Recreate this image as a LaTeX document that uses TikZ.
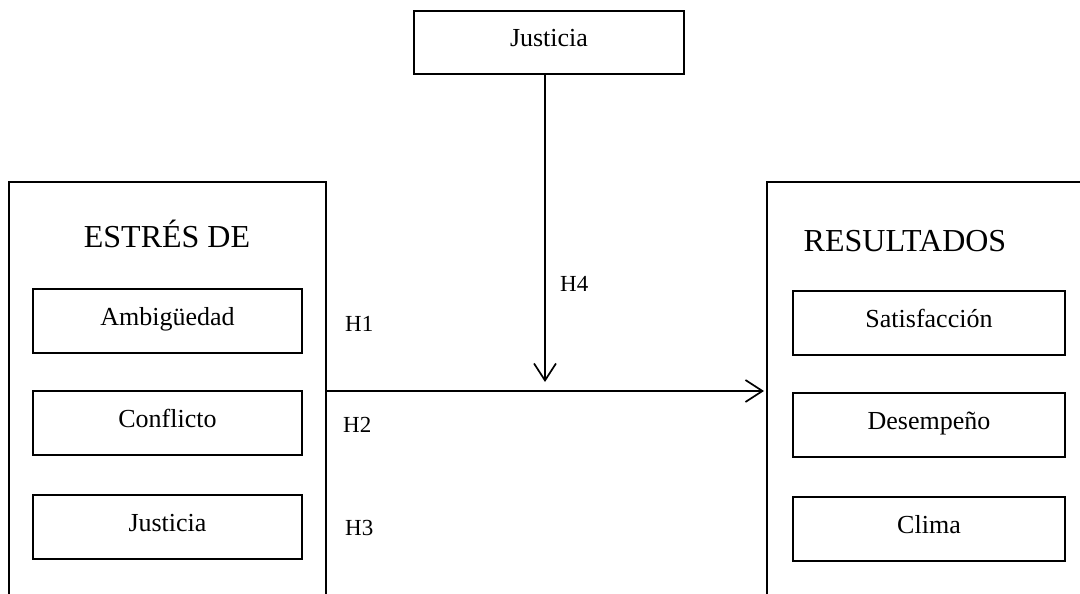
\documentclass[tikz,border=0pt]{standalone}
\usepackage{fontspec}
\setmainfont{Liberation Serif}
\usetikzlibrary{arrows.meta}
\begin{document}
\begin{tikzpicture}[x=1pt,y=-1pt,
  line width=1.7pt,
  frame/.style={draw=none,minimum width=317pt,minimum height=420pt,inner sep=0pt,outer sep=0pt},
  itembox/.style={draw,minimum width=269pt,minimum height=64pt,inner sep=0pt,
    text height=17pt,text depth=9pt,font=\fontsize{26}{30}\selectfont},
  head/.style={anchor=base,font=\fontsize{32}{36}\selectfont},
  hyp/.style={anchor=base west,font=\fontsize{23}{26}\selectfont},
  arr/.style={-{Straight Barb[length=17pt,width=22pt,line width=1.7pt]}}]
\useasboundingbox (0,0) rectangle (1080,594);

% outer groups (open at the bottom edge)
\node[frame,anchor=north west] (est) at (9,182) {};
\node[frame,anchor=north west,minimum width=330pt] (res) at (767,182) {};
\draw (est.south west) -- (est.north west) -- (est.north east) -- (est.south east);
\draw (res.south west) -- (res.north west) -- (res.north east);

\node[head] (esth) at (167,247) {ESTRÉS DE};
\node[head] (resh) at (905,251) {RESULTADOS};

% stressors
\node[itembox] (amb) at (167.5,321) {Ambigüedad};
\node[itembox] (con) at (167.5,423) {Conflicto};
\node[itembox] (jus) at (167.5,527) {Justicia};

% outcomes
\node[itembox,minimum width=272pt] (sat) at (929,323) {Satisfacción};
\node[itembox,minimum width=272pt] (des) at (929,425) {Desempeño};
\node[itembox,minimum width=272pt] (cli) at (929,529) {Clima};

% moderator
\node[itembox,minimum width=270pt,minimum height=63pt] (mod) at (549,42.5) {Justicia};

% hypotheses
\node[hyp] (h1) at (341,331) {H1};
\node[hyp] (h2) at (339,432) {H2};
\node[hyp] (h3) at (341,535) {H3};
\node[hyp] (h4) at (556,291) {H4};

% main path and moderating path
\coordinate (lvl) at (0,391);
\draw[arr,shorten >=3pt] (est.east |- lvl) -- (res.west |- lvl);
\draw[arr] (mod.south -| 545,0) -- (545,382);
\end{tikzpicture}
\end{document}
